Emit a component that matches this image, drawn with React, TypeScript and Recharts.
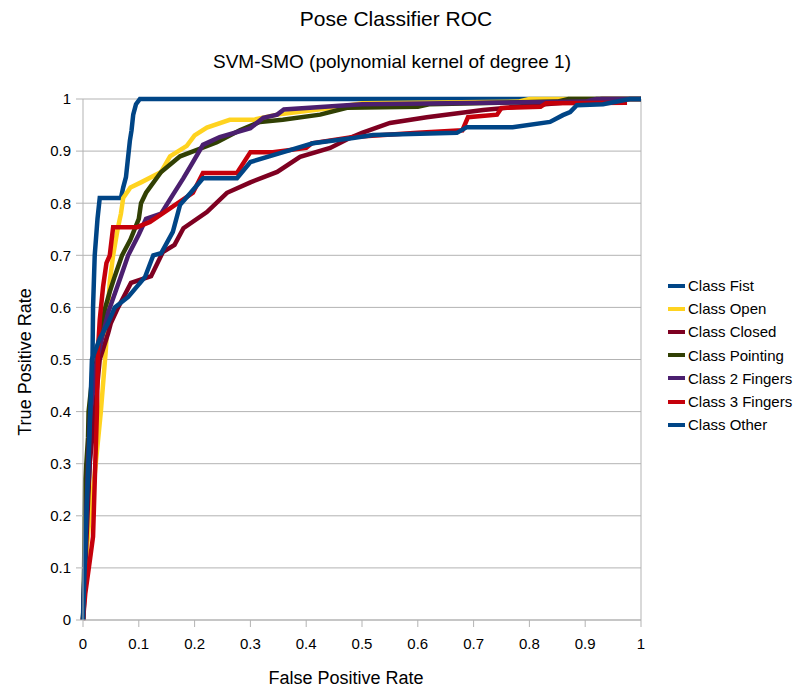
import React from 'react';
import {
  LineChart,
  Line,
  XAxis,
  YAxis,
  CartesianGrid,
  ReferenceLine,
} from 'recharts';

// ---- data (false positive rate, true positive rate) ----

const classNames = [
  'Class Fist',
  'Class Open',
  'Class Closed',
  'Class Pointing',
  'Class 2 Fingers',
  'Class 3 Fingers',
  'Class Other',
];

const classColors = ['#004586', '#ffd320', '#7e0021', '#314004', '#4b1f6f', '#c5000b', '#004586'];

const fistRoc = [
  [0, 0], [0.003, 0.05], [0.005, 0.1], [0.008, 0.18], [0.01, 0.25], [0.012, 0.3],
  [0.015, 0.4], [0.017, 0.5], [0.018, 0.6], [0.021, 0.7], [0.026, 0.77], [0.03, 0.81],
  [0.068, 0.81], [0.072, 0.83], [0.077, 0.85], [0.08, 0.88], [0.084, 0.92], [0.087, 0.94],
  [0.09, 0.97], [0.095, 0.99], [0.102, 1], [1, 1],
];

const openRoc = [
  [0, 0], [0.002, 0.05], [0.007, 0.14], [0.012, 0.2], [0.021, 0.28], [0.032, 0.4],
  [0.041, 0.52], [0.045, 0.6], [0.048, 0.65], [0.054, 0.7], [0.062, 0.75], [0.068, 0.78],
  [0.072, 0.81], [0.085, 0.83], [0.104, 0.84], [0.14, 0.86], [0.156, 0.89], [0.186, 0.91],
  [0.2, 0.93], [0.222, 0.945], [0.263, 0.96], [0.305, 0.96], [0.348, 0.97], [0.448, 0.983],
  [0.5, 0.992], [0.78, 0.995], [0.8, 1], [1, 1],
];

const closedRoc = [
  [0, 0], [0.004, 0.1], [0.008, 0.2], [0.012, 0.3], [0.021, 0.4], [0.03, 0.5],
  [0.045, 0.55], [0.05, 0.57], [0.063, 0.6], [0.086, 0.647], [0.122, 0.66], [0.143, 0.706],
  [0.164, 0.72], [0.18, 0.752], [0.222, 0.783], [0.258, 0.82], [0.3, 0.84], [0.348, 0.86],
  [0.389, 0.889], [0.443, 0.906], [0.478, 0.925], [0.5, 0.935], [0.55, 0.954], [0.616, 0.965],
  [0.717, 0.979], [0.806, 0.988], [0.85, 0.992], [0.93, 1], [1, 1],
];

const pointingRoc = [
  [0, 0], [0.002, 0.1], [0.003, 0.2], [0.004, 0.27], [0.006, 0.3], [0.009, 0.35],
  [0.01, 0.4], [0.015, 0.45], [0.025, 0.5], [0.03, 0.55], [0.04, 0.6], [0.048, 0.63],
  [0.057, 0.66], [0.07, 0.7], [0.085, 0.73], [0.1, 0.77], [0.104, 0.8], [0.113, 0.82],
  [0.14, 0.86], [0.174, 0.89], [0.24, 0.917], [0.281, 0.94], [0.317, 0.956], [0.358, 0.96],
  [0.425, 0.97], [0.473, 0.983], [0.6, 0.985], [0.62, 0.99], [0.85, 0.995], [0.87, 1], [1, 1],
];

const twoFingersRoc = [
  [0, 0], [0.003, 0.1], [0.006, 0.2], [0.009, 0.3], [0.013, 0.4], [0.025, 0.5],
  [0.036, 0.55], [0.045, 0.59], [0.068, 0.66], [0.081, 0.7], [0.1, 0.74], [0.113, 0.77],
  [0.14, 0.78], [0.161, 0.816], [0.18, 0.848], [0.197, 0.879], [0.215, 0.912], [0.245, 0.927],
  [0.3, 0.944], [0.323, 0.964], [0.348, 0.97], [0.36, 0.98], [0.5, 0.99], [0.9, 0.995],
  [0.92, 1], [1, 1],
];

const threeFingersRoc = [
  [0, 0], [0.004, 0.05], [0.013, 0.12], [0.018, 0.16], [0.022, 0.3], [0.025, 0.4],
  [0.027, 0.52], [0.03, 0.576], [0.036, 0.64], [0.042, 0.685], [0.048, 0.7], [0.054, 0.754],
  [0.097, 0.754], [0.12, 0.764], [0.156, 0.79], [0.197, 0.82], [0.215, 0.858], [0.276, 0.858],
  [0.3, 0.898], [0.34, 0.898], [0.4, 0.906], [0.41, 0.915], [0.484, 0.927], [0.6, 0.935],
  [0.68, 0.94], [0.69, 0.965], [0.742, 0.97], [0.75, 0.983], [0.82, 0.985], [0.83, 0.992],
  [0.975, 0.993],
];

const otherRoc = [
  [0, 0], [0.003, 0.1], [0.006, 0.2], [0.01, 0.3], [0.013, 0.4], [0.016, 0.5],
  [0.03, 0.54], [0.045, 0.57], [0.057, 0.6], [0.081, 0.62], [0.111, 0.658], [0.126, 0.7],
  [0.14, 0.704], [0.161, 0.745], [0.174, 0.797], [0.193, 0.82], [0.215, 0.848], [0.276, 0.848],
  [0.3, 0.879], [0.353, 0.896], [0.412, 0.915], [0.484, 0.925], [0.52, 0.931], [0.67, 0.935],
  [0.688, 0.946], [0.77, 0.946], [0.837, 0.956], [0.86, 0.969], [0.873, 0.975], [0.885, 0.988],
  [0.932, 0.99], [0.98, 1], [1, 1],
];

const rocCurves = [fistRoc, openRoc, closedRoc, pointingRoc, twoFingersRoc, threeFingersRoc, otherRoc];

const axisTicks = [0, 0.1, 0.2, 0.3, 0.4, 0.5, 0.6, 0.7, 0.8, 0.9, 1];

const FONT = '"Liberation Sans", Arial, sans-serif';

const toPoints = (curve: number[][]) => curve.map(([fpr, tpr]) => ({ fpr, tpr }));

// legend on the right, coloured short bar + label (kept outside the chart so it takes no plot space)
const RocLegend = () => (
  <div style={{ position: 'absolute', left: 668, top: 274, fontFamily: FONT, fontSize: 15, color: '#000' }}>
    {classNames.map((name, i) => (
      <div key={name} style={{ display: 'flex', alignItems: 'center', height: 23.2 }}>
        <div style={{ width: 17, height: 4, backgroundColor: classColors[i], marginRight: 3 }} />
        <span>{name}</span>
      </div>
    ))}
  </div>
);

export default function App() {
  return (
    <div style={{ position: 'absolute', left: 0, top: 0, width: 802, height: 692, background: '#fff', fontFamily: FONT }}>
      <LineChart
        width={802}
        height={692}
        margin={{ top: 99, right: 161, bottom: 42, left: 33 }}
        style={{ position: 'absolute', left: 0, top: 0 }}
      >
        <CartesianGrid vertical={false} stroke="#b3b3b3" strokeWidth={1} />
        <XAxis
          type="number"
          dataKey="fpr"
          domain={[0, 1]}
          ticks={axisTicks}
          allowDuplicatedCategory={false}
          height={30}
          stroke="#b3b3b3"
          tickSize={7}
          tick={{ fontFamily: FONT, fontSize: 15, fill: '#000' }}
          tickMargin={11}
        />
        <YAxis
          type="number"
          dataKey="tpr"
          domain={[0, 1]}
          ticks={axisTicks}
          width={50}
          stroke="#b3b3b3"
          tickSize={7}
          tick={{ fontFamily: FONT, fontSize: 15, fill: '#000' }}
          tickMargin={5}
        />
        <ReferenceLine x={1} stroke="#b3b3b3" />
        {rocCurves.map((curve, i) => (
          <Line
            key={classNames[i]}
            data={toPoints(curve)}
            dataKey="tpr"
            name={classNames[i]}
            type="linear"
            stroke={classColors[i]}
            strokeWidth={4.5}
            dot={false}
            isAnimationActive={false}
          />
        ))}
      </LineChart>
      <div style={{ position: 'absolute', top: 7, width: 792, textAlign: 'center', fontSize: 21, color: '#000' }}>
        Pose Classifier ROC
      </div>
      <div style={{ position: 'absolute', top: 51, width: 784, textAlign: 'center', fontSize: 19, color: '#000' }}>
        SVM-SMO (polynomial kernel of degree 1)
      </div>
      <div style={{ position: 'absolute', top: 668, left: 246, width: 200, textAlign: 'center', fontSize: 18, color: '#000' }}>
        False Positive Rate
      </div>
      <div
        style={{
          position: 'absolute',
          left: 25,
          top: 362,
          transform: 'translate(-50%, -50%) rotate(-90deg)',
          whiteSpace: 'nowrap',
          fontSize: 18,
          color: '#000',
        }}
      >
        True Positive Rate
      </div>
      <RocLegend />
    </div>
  );
}
